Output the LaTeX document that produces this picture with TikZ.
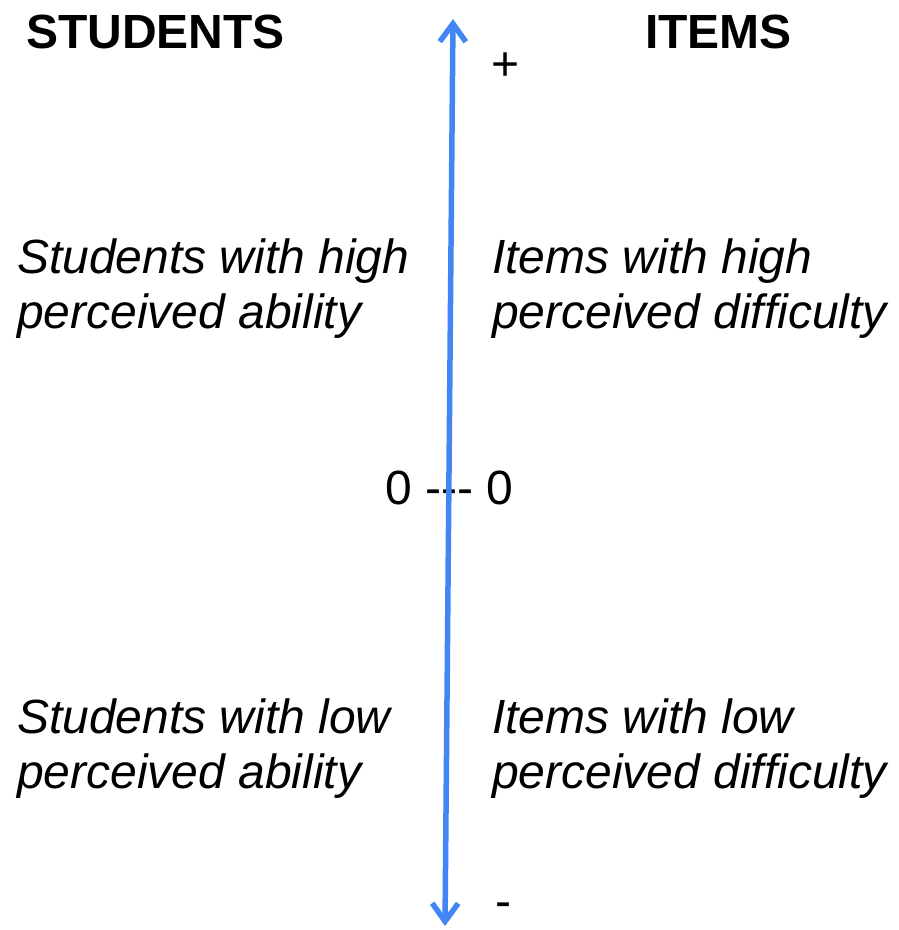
\documentclass[tikz,border=0pt]{standalone}
\usepackage{fontspec}
\setmainfont{Liberation Sans}
\usetikzlibrary{arrows.meta}
\definecolor{axisblue}{RGB}{66,133,244}
\begin{document}
\begin{tikzpicture}[
    x=1pt, y=-1pt,
    heading/.style={font=\fontsize{48}{55}\selectfont\bfseries, inner sep=0pt, anchor=base west},
    desc/.style={font=\fontsize{48}{55}\selectfont\itshape, inner sep=0pt, anchor=base west, align=left},
    sign/.style={font=\fontsize{48}{55}\selectfont, inner sep=0pt, anchor=base west},
    axis/.style={{Straight Barb[length=18pt,width=26pt]}-{Straight Barb[length=18pt,width=26pt]}, line width=5.5pt, draw=axisblue, line cap=round, line join=round}
]
    \useasboundingbox (0,0) rectangle (898,930);

    % Headings
    \node[heading] (students) at (26,48) {STUDENTS};
    \node[heading] (items) at (645,48) {ITEMS};

    % Ends of the scale
    \node[sign] (plus) at (491,80) {+};
    \node[sign] (minus) at (495,917) {-};
    \node[sign] (zero) at (385,504) {0 {-}{-}{-} 0};

    % Students
    \node[desc] (highability) at (17,328) {Students with high\\perceived ability};
    \node[desc] (lowability) at (17,788) {Students with low\\perceived ability};

    % Items
    \node[desc] (highdifficulty) at (492,328) {Items with high\\perceived difficulty};
    \node[desc] (lowdifficulty) at (492,788) {Items with low\\perceived difficulty};

    % Scale
    \coordinate (bottom) at (445,926);
    \coordinate (top) at (453,19);
    \draw[axis] (bottom) -- (top);
\end{tikzpicture}
\end{document}
